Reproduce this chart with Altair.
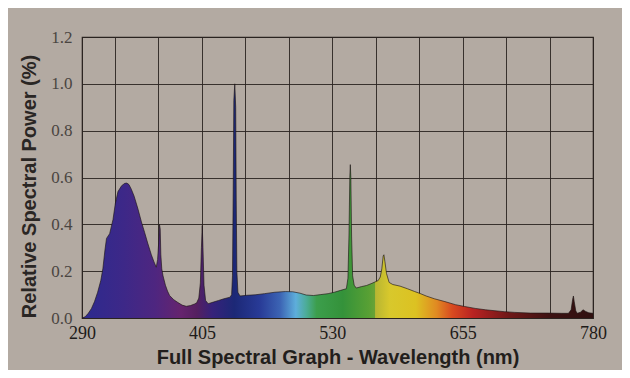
import altair as alt
import pandas as pd

# Spectrum (wavelength in nm, relative power)
wavelength = [
    290, 293, 296, 299, 302, 305, 308, 310, 312, 313.5, 316.5, 319.7, 322, 324.5,
    328, 331, 333, 335, 337.3, 340, 343.7, 347, 350, 353, 356.5, 359, 361.2,
    362.5, 363.5, 364.3, 365.0, 365.6, 366.5, 367.7,
    370, 372, 374, 378, 382, 386, 390, 394, 398,
    400, 402, 403.5, 404.5, 405.3, 406, 407, 408.5, 411,
    416, 421, 426, 432,
    433.5, 434.3, 435.0, 435.6, 436.5, 437.4, 437.9, 438.5, 439.5, 441.5,
    448, 456, 465, 475, 485, 492, 499, 505, 512, 519, 526, 532, 538, 543.5,
    545, 546, 546.8, 547.3, 547.8, 548.5, 549.5, 551, 553,
    558, 563, 568, 574,
    576, 577.5, 578.8, 579.5, 580.5, 582, 584.5,
    588, 595, 602, 609, 614, 620, 628, 638, 648, 657, 667, 677, 686, 695, 705,
    720, 737, 750, 756.5,
    759, 760.5, 761.2, 762, 763.5, 765, 768, 770.5, 773, 776, 780,
]
power = [
    0.0, 0.005, 0.02, 0.04, 0.07, 0.11, 0.16, 0.21, 0.29, 0.34, 0.36, 0.42, 0.49, 0.54,
    0.565, 0.575, 0.576, 0.57, 0.55, 0.52, 0.465, 0.41, 0.366, 0.32, 0.27, 0.24, 0.217,
    0.25, 0.32, 0.40, 0.38, 0.27, 0.21, 0.18,
    0.14, 0.115, 0.096, 0.078, 0.066, 0.055, 0.05, 0.053, 0.06,
    0.065, 0.085, 0.15, 0.30, 0.395, 0.30, 0.14, 0.075, 0.061,
    0.068, 0.075, 0.082, 0.089,
    0.10, 0.18, 0.55, 0.93, 1.0, 0.9, 0.5, 0.2, 0.11, 0.094,
    0.097, 0.099, 0.104, 0.11, 0.113, 0.112, 0.106, 0.098, 0.096, 0.1, 0.104, 0.11, 0.118, 0.125,
    0.17, 0.35, 0.6, 0.655, 0.6, 0.35, 0.18, 0.14, 0.128,
    0.134, 0.139, 0.148, 0.16,
    0.175, 0.21, 0.265, 0.27, 0.24, 0.19, 0.152,
    0.143, 0.136, 0.125, 0.113, 0.105, 0.094, 0.082, 0.07, 0.057, 0.049, 0.041, 0.035, 0.031, 0.027, 0.024,
    0.021, 0.021, 0.02, 0.02,
    0.035, 0.08, 0.094, 0.07, 0.03, 0.02, 0.025, 0.035, 0.028, 0.022, 0.02,
]

grid_nm = [290, 321.667, 363.333, 405, 446.667, 488.333, 530, 571.667,
           613.333, 655, 696.667, 738.333, 780]
label_nm = [290, 405, 530, 655, 780]
y_ticks = [0.0, 0.2, 0.4, 0.6, 0.8, 1.0, 1.2]

stop_nm = [290, 330, 360, 385, 400, 415, 436, 460, 480, 495, 505, 515,
           540, 565, 570.5, 571.5, 585, 610, 630, 645, 665, 700, 740, 780]
stop_color = ["#2c2a8e", "#3d2888", "#4e2680", "#66246e", "#552060", "#36227a",
              "#1c2876", "#283a96", "#3c64b4", "#5eaedb", "#4cac98", "#3c9e4c",
              "#34923a", "#58a034", "#68a236", "#b8b632", "#d8c82c", "#dcc222",
              "#e08a22", "#d84a20", "#b82222", "#6e1818", "#3c1212", "#301010"]

df = pd.DataFrame({"nm": wavelength, "p": power})

gradient = alt.Gradient(
    gradient="linear",
    stops=[alt.GradientStop(offset=(n - 290) / 490, color=c) for n, c in zip(stop_nm, stop_color)],
    x1=0, x2=1, y1=0, y2=0,
)

label_list = ",".join(str(v) for v in label_nm)
x_enc = alt.X(
    "nm:Q",
    scale=alt.Scale(domain=[290, 780], nice=False, zero=False),
    axis=alt.Axis(
        values=grid_nm,
        labelExpr=f"indexof([{label_list}], round(datum.value)) >= 0 ? format(datum.value, 'd') : ''",
        title="Full Spectral Graph - Wavelength (nm)",
        labelFont="Liberation Sans Narrow",
        labelFontSize=18,
        labelColor="#1e1b19",
        labelPadding=6,
        labelFlush=False,
        titleFont="Liberation Sans",
        titleFontSize=20,
        titleFontWeight="bold",
        titleColor="#221e1c",
        titlePadding=5,
    ),
)
y_enc = alt.Y(
    "p:Q",
    scale=alt.Scale(domain=[0, 1.2], nice=False),
    axis=alt.Axis(
        values=y_ticks,
        format=".1f",
        title="Relative Spectral Power (%)",
        labelFont="Liberation Sans Narrow",
        labelFontSize=17,
        labelColor="#4a4541",
        labelPadding=10,
        titleFont="Liberation Sans",
        titleFontSize=20,
        titleFontWeight="bold",
        titleColor="#2a2624",
        titlePadding=11,
        titleY=149,
    ),
)

area = alt.Chart(df).mark_area(color=gradient, interpolate="linear").encode(x=x_enc, y=y_enc)
edge = alt.Chart(df).mark_line(color="#1c1414", strokeWidth=0.8, opacity=0.8).encode(x="nm:Q", y="p:Q")

chart = (
    alt.layer(area, edge)
    .properties(
        width=511,
        height=281,
        background="#b3aaa2",
        autosize=alt.AutoSizeParams(type="none"),
        padding={"left": 74, "top": 29, "right": 29, "bottom": 52},
    )
    .configure_axis(
        ticks=False,
        domain=False,
        grid=True,
        gridColor="#2a2420",
        gridWidth=1,
        gridOpacity=0.9,
    )
    .configure_view(stroke="#2a2420", strokeWidth=1.2)
)

chart.save("out.html", embed_options={"renderer": "svg", "actions": False})
